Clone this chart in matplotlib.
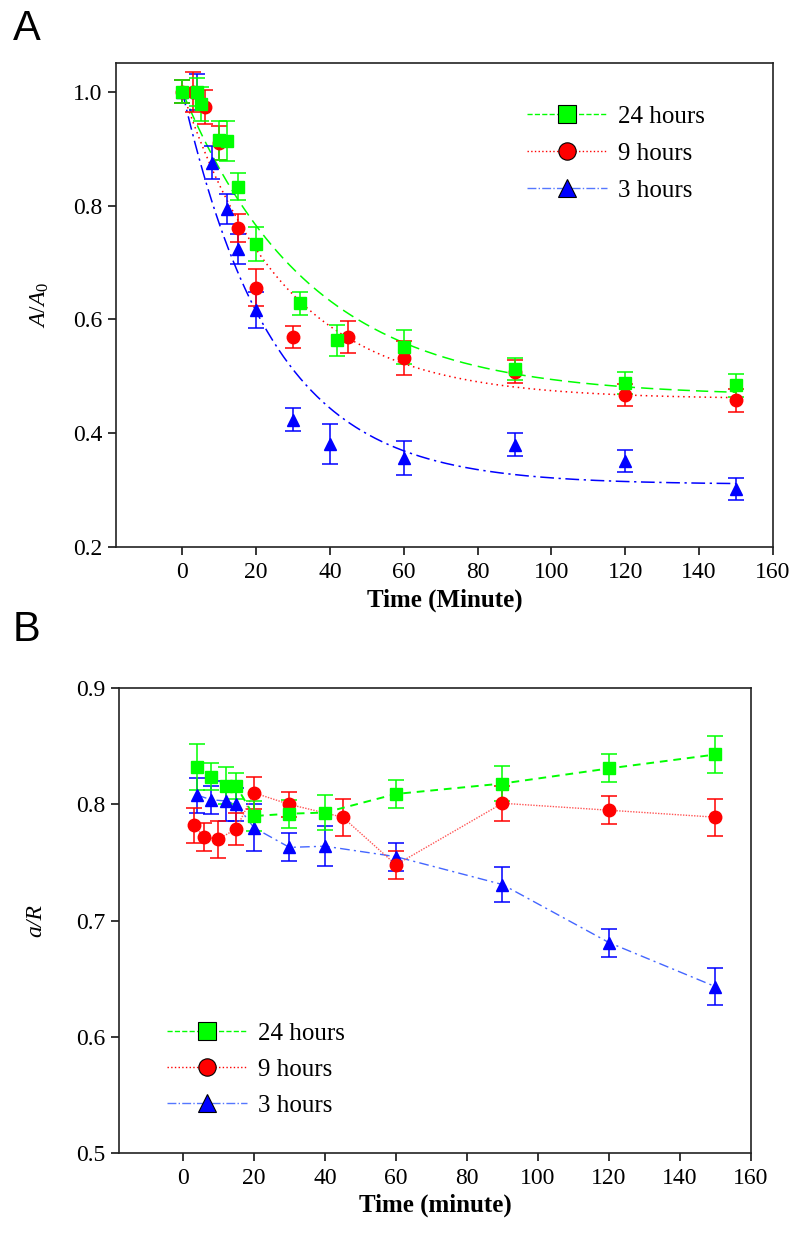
import numpy as np
import matplotlib
matplotlib.use('Agg')
import matplotlib.pyplot as plt
from matplotlib.lines import Line2D

# 패널 A : A/A0 감소 곡선
a_t_24 = [0, 4, 5, 10, 12, 15, 20, 32, 42, 60, 90, 120, 150]
a_v_24 = [1.0, 1.0, 0.978, 0.915, 0.913, 0.833, 0.733, 0.628, 0.563, 0.551, 0.513, 0.488, 0.484]
a_e_24 = [0.02, 0.025, 0.03, 0.034, 0.035, 0.024, 0.03, 0.02, 0.028, 0.03, 0.02, 0.02, 0.02]

a_t_9 = [0, 3, 6, 10, 15, 20, 30, 45, 60, 90, 120, 150]
a_v_9 = [1.0, 1.0, 0.973, 0.91, 0.761, 0.656, 0.569, 0.569, 0.532, 0.508, 0.467, 0.458]
a_e_9 = [0.02, 0.035, 0.03, 0.03, 0.025, 0.032, 0.02, 0.028, 0.03, 0.02, 0.02, 0.02]

a_t_3 = [0, 4, 8, 12, 15, 20, 30, 40, 60, 90, 120, 150]
a_v_3 = [1.0, 1.0, 0.875, 0.794, 0.724, 0.616, 0.424, 0.381, 0.357, 0.380, 0.351, 0.302]
a_e_3 = [0.02, 0.032, 0.029, 0.027, 0.026, 0.032, 0.02, 0.036, 0.03, 0.02, 0.02, 0.02]

# 피팅 곡선 파라미터 (plateau, rate) - 그림에서 읽은 값
a_fit_24 = [0.465, 0.029]
a_fit_9 = [0.46, 0.036]
a_fit_3 = [0.31, 0.041]

# 패널 B : a/R
b_t_24 = [4, 8, 12, 15, 20, 30, 40, 60, 90, 120, 150]
b_v_24 = [0.832, 0.824, 0.816, 0.816, 0.790, 0.792, 0.793, 0.809, 0.818, 0.831, 0.843]
b_e_24 = [0.02, 0.012, 0.016, 0.011, 0.013, 0.012, 0.015, 0.012, 0.015, 0.012, 0.016]

b_t_9 = [3, 6, 10, 15, 20, 30, 45, 60, 90, 120, 150]
b_v_9 = [0.782, 0.772, 0.770, 0.779, 0.810, 0.800, 0.789, 0.748, 0.801, 0.795, 0.789]
b_e_9 = [0.015, 0.012, 0.016, 0.014, 0.014, 0.011, 0.016, 0.012, 0.015, 0.012, 0.016]

b_t_3 = [4, 8, 12, 15, 20, 30, 40, 60, 90, 120, 150]
b_v_3 = [0.808, 0.804, 0.803, 0.800, 0.780, 0.763, 0.764, 0.755, 0.731, 0.681, 0.643]
b_e_3 = [0.015, 0.012, 0.017, 0.014, 0.02, 0.012, 0.017, 0.012, 0.015, 0.012, 0.016]

labels = ['24 hours', '9 hours', '3 hours']

GREEN = '#00ff00'
RED = '#ff0000'
BLUE = '#0000ff'

plt.rcParams['font.family'] = ['Liberation Serif', 'DejaVu Serif']
plt.rcParams['mathtext.fontset'] = 'custom'
plt.rcParams['mathtext.it'] = 'Liberation Serif:italic'
plt.rcParams['mathtext.rm'] = 'Liberation Serif'


def style_axes(ax):
    for s in ax.spines.values():
        s.set_linewidth(1.2)
        s.set_color('#222222')
    ax.tick_params(direction='out', length=6, width=1.1, labelsize=17, pad=4)
    ax.tick_params(axis='x', pad=5)


def points(ax, t, v, e, color, marker, ls='none', lw=1.0, dashes=None):
    kw = dict(fmt=marker, color=color, ms=9, mec=color, ecolor=color,
              elinewidth=1.1, capsize=5.5, capthick=1.1)
    ax.errorbar(t, v, yerr=e, linestyle='none', **kw)
    if ls != 'none':
        line, = ax.plot(t, v, ls, color=color, lw=lw)
        if dashes is not None:
            line.set_dashes(dashes)


def handles(line_styles):
    out = []
    for (color, marker, ls, lcol) in line_styles:
        out.append(Line2D([0], [0], color=lcol, ls=ls, lw=1.0, marker=marker,
                          ms=12.5, mfc=color, mec='black', mew=0.8))
    return out


fig = plt.figure(figsize=(8, 12.4), dpi=100)

# ---------- A ----------
ax1 = fig.add_axes([0.145, 0.5589, 0.821, 0.390])
tt = np.linspace(0, 150, 400)
for (c, k), col, ls in [(a_fit_3, BLUE, '-.'), (a_fit_9, RED, ':'), (a_fit_24, GREEN, '--')]:
    ln, = ax1.plot(tt, c + (1 - c) * np.exp(-k * tt), ls, color=col, lw=1.1)
    if ls == '--':
        ln.set_dashes([8, 4])
    elif ls == '-.':
        ln.set_dashes([9, 3, 1.5, 3])
    else:
        ln.set_dashes([1, 2.5])

points(ax1, a_t_3, a_v_3, a_e_3, BLUE, '^')
points(ax1, a_t_9, a_v_9, a_e_9, RED, 'o')
points(ax1, a_t_24, a_v_24, a_e_24, GREEN, 's')

ax1.set_xlim(-18, 160)
ax1.set_ylim(0.2, 1.05)
ax1.set_xticks(np.arange(0, 161, 20))
ax1.set_yticks([0.2, 0.4, 0.6, 0.8, 1.0])
ax1.set_yticklabels(['0.2', '0.4', '0.6', '0.8', '1.0'])
style_axes(ax1)
ax1.set_xlabel('Time (Minute)', fontsize=18, fontweight='bold', labelpad=4)
ax1.set_ylabel(r'$\mathit{A/A_0}$', fontsize=17, labelpad=16)

hA = handles([(GREEN, 's', '--', GREEN), (RED, 'o', ':', RED), (BLUE, '^', '-.', '#5577ff')])
ax1.legend(hA, labels, loc='upper left', bbox_to_anchor=(0.626, 0.913), frameon=False,
           fontsize=18, handlelength=3.2, handletextpad=0.45, labelspacing=0.58,
           borderpad=0, borderaxespad=0)

# ---------- B ----------
ax2 = fig.add_axes([0.14875, 0.0704, 0.790, 0.3745])
points(ax2, b_t_3, b_v_3, b_e_3, BLUE, '^', ls='-.', lw=1.0, dashes=[7, 3, 1.5, 3])
ax2.lines[-1].set_color('#4466ff')
points(ax2, b_t_9, b_v_9, b_e_9, RED, 'o', ls=':', lw=1.0, dashes=[1, 1])
ax2.lines[-1].set_color('#ff5555')
points(ax2, b_t_24, b_v_24, b_e_24, GREEN, 's', ls='--', lw=1.4, dashes=[4, 3])

ax2.set_xlim(-18, 160)
ax2.set_ylim(0.5, 0.9)
ax2.set_xticks(np.arange(0, 161, 20))
ax2.set_yticks([0.5, 0.6, 0.7, 0.8, 0.9])
style_axes(ax2)
ax2.set_xlabel('Time (minute)', fontsize=18, fontweight='bold', labelpad=3)
ax2.set_ylabel('a/R', fontsize=17, fontstyle='italic', labelpad=21)

hB = handles([(GREEN, 's', '--', GREEN), (RED, 'o', ':', RED), (BLUE, '^', '-.', '#5577ff')])
ax2.legend(hB, labels, loc='upper left', bbox_to_anchor=(0.0755, 0.280), frameon=False,
           fontsize=18, handlelength=3.2, handletextpad=0.45, labelspacing=0.54,
           borderpad=0, borderaxespad=0)

fig.text(13 / 800, 1 - 9 / 1240, 'A', fontsize=30, family='Liberation Sans', va='top', ha='left')
fig.text(13 / 800, 1 - 610 / 1240, 'B', fontsize=30, family='Liberation Sans', va='top', ha='left')

fig.savefig('out.png', dpi=100)
